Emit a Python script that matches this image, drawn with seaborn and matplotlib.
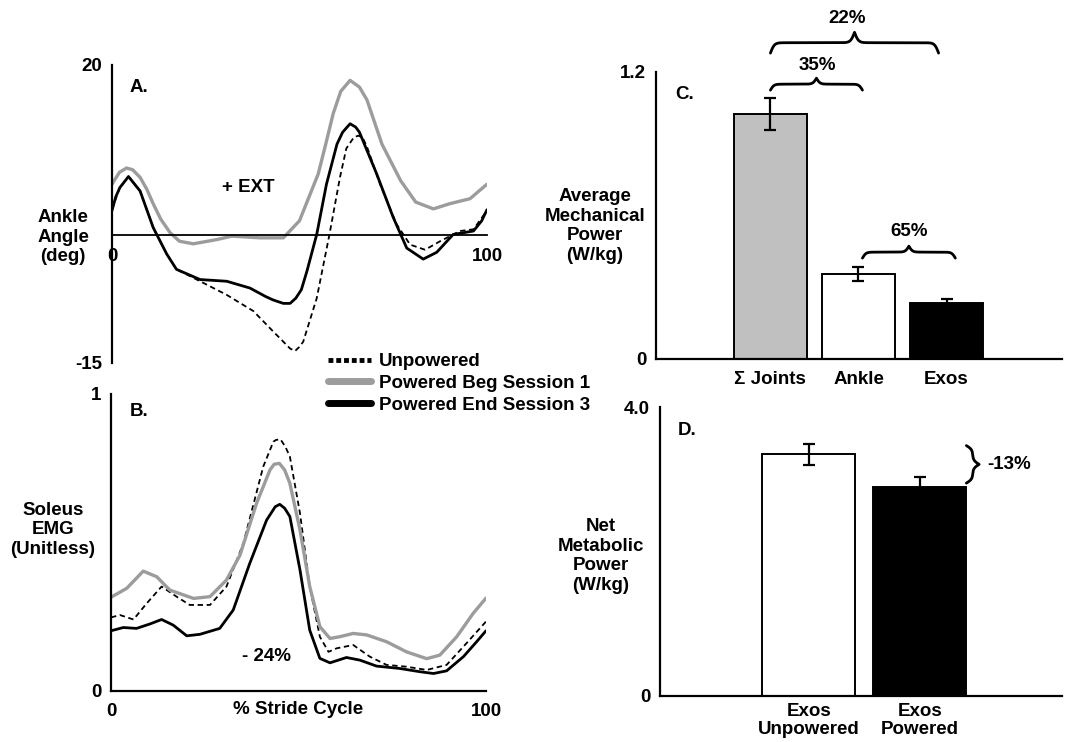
import numpy as np
import pandas as pd
import matplotlib
matplotlib.use("Agg")
import matplotlib.pyplot as plt
import seaborn as sns
from matplotlib.lines import Line2D


# A. ankle angle (deg) over the stride cycle (%)
ang_unp_x = [0, 2, 4.4, 7.5, 11, 14.6, 17.2, 23.5, 30.6, 37.7, 43, 46.6, 47.5, 48.8, 50, 51, 54.6, 58, 60.8, 62.5, 64.5, 65.7, 66.8, 68, 71.5, 75.9, 79.5, 83.5, 87.5, 92.8, 96.4, 100]
ang_unp_y = [3.0, 5.5, 6.9, 5.2, 0.9, -2.2, -4.0, -5.4, -7.0, -8.9, -11.3, -12.9, -13.3, -13.6, -13.1, -12.5, -7.4, 0.1, 6.8, 10.2, 11.5, 11.7, 11.5, 10.4, 6.0, 1.3, -1.1, -1.7, -0.7, 0.5, 0.7, 2.9]

ang_beg_x = [0, 2, 3.9, 5.5, 7.5, 9.3, 11, 13, 15.5, 18, 21.7, 28, 32, 39.5, 45.7, 50, 55, 57, 59, 61, 63.5, 66, 68, 72, 77, 81, 85.7, 90, 95.5, 100]
ang_beg_y = [6.0, 7.4, 7.9, 7.7, 6.8, 5.4, 3.7, 1.9, 0.3, -0.7, -1.0, -0.5, -0.1, -0.3, -0.3, 1.7, 7.2, 10.7, 14.3, 16.9, 18.2, 17.4, 15.9, 10.7, 6.4, 3.9, 3.1, 3.7, 4.3, 6.0]

ang_end_x = [0, 1, 2.1, 4.4, 7.5, 11, 14.6, 17.2, 23.5, 30.6, 36.8, 41, 43, 45.7, 47.5, 49, 50.5, 52, 54.6, 57.2, 60, 61.5, 63.5, 65, 66, 70.6, 75, 78.6, 83, 86.6, 91, 96.4, 98.6, 100]
ang_end_y = [2.9, 4.5, 5.6, 6.9, 5.2, 0.9, -2.2, -4.0, -5.2, -5.4, -6.2, -7.2, -7.6, -8.0, -8.0, -7.4, -6.4, -4.2, 0.1, 6.0, 10.7, 12.1, 13.1, 12.7, 12.1, 7.2, 2.1, -1.5, -2.8, -2.0, 0.1, 0.5, 1.7, 3.0]

# B. soleus EMG (unitless)
emg_unp_x = [0, 2.4, 6, 9.5, 13.5, 17.5, 21, 26.4, 30.8, 35.3, 40.6, 43.3, 44, 45.2, 46.5, 47.7, 50.4, 53, 55.7, 58, 60.2, 64.6, 69, 73.5, 78.8, 84.2, 89.5, 94.8, 100]
emg_unp_y = [0.247, 0.255, 0.240, 0.294, 0.351, 0.317, 0.289, 0.289, 0.351, 0.497, 0.755, 0.839, 0.845, 0.847, 0.822, 0.789, 0.598, 0.351, 0.182, 0.131, 0.143, 0.154, 0.115, 0.087, 0.081, 0.070, 0.087, 0.160, 0.233]

emg_beg_x = [0, 4.2, 8.6, 12.2, 15.7, 22, 26.4, 30.8, 34.4, 38.8, 42.4, 43.5, 44.9, 46.3, 47.7, 50.4, 53, 55.7, 58.4, 61, 64.6, 68.2, 73.5, 78.8, 84.2, 87.7, 92.2, 96.6, 100]
emg_beg_y = [0.315, 0.345, 0.403, 0.384, 0.339, 0.311, 0.317, 0.373, 0.457, 0.631, 0.744, 0.763, 0.766, 0.744, 0.699, 0.542, 0.351, 0.216, 0.176, 0.182, 0.193, 0.188, 0.165, 0.131, 0.108, 0.120, 0.182, 0.261, 0.312]

emg_end_x = [0, 3.3, 6.8, 10.4, 13.5, 16.6, 20.2, 23.7, 29, 32.6, 37, 41.5, 43.8, 45, 46.3, 47.7, 50.4, 53, 55.7, 58.4, 62.8, 66.4, 70.8, 77, 82.4, 86, 89.5, 94, 97.5, 100]
emg_end_y = [0.202, 0.213, 0.210, 0.225, 0.240, 0.221, 0.185, 0.190, 0.210, 0.272, 0.429, 0.575, 0.620, 0.628, 0.615, 0.587, 0.407, 0.204, 0.109, 0.094, 0.112, 0.103, 0.083, 0.075, 0.064, 0.058, 0.067, 0.115, 0.165, 0.202]

# C. average mechanical power (W/kg)
mech_labels = ["\u03a3 Joints", "Ankle", "Exos"]
mech_values = [1.023, 0.355, 0.234]
mech_errors = [0.067, 0.028, 0.016]
mech_colors = ["#c0c0c0", "white", "black"]

# D. net metabolic power (W/kg)
met_labels = ["Exos\nUnpowered", "Exos\nPowered"]
met_values = [3.35, 2.90]
met_errors = [0.145, 0.14]
met_colors = ["white", "black"]

series_labels = ["Unpowered", "Powered Beg Session 1", "Powered End Session 3"]

FS = 13.5
GRAY = "#9c9c9c"


def hbrace(ax, x1, x2, y_end, y_tip, beta):
    # horizontal curly brace, tip in the middle
    xs = np.linspace(x1, x2, 401)
    half = xs[:201]
    s = 1 / (1 + np.exp(-beta * (half - half[0]))) + 1 / (1 + np.exp(-beta * (half - half[-1])))
    s = np.concatenate((s, s[-2::-1]))
    ax.plot(xs, y_end + (s - 0.5) * (y_tip - y_end), color="black", lw=2, clip_on=False)


def vbrace(ax, y1, y2, x_end, x_tip, beta):
    ys = np.linspace(y1, y2, 401)
    half = ys[:201]
    s = 1 / (1 + np.exp(-beta * (half - half[0]))) + 1 / (1 + np.exp(-beta * (half - half[-1])))
    s = np.concatenate((s, s[-2::-1]))
    ax.plot(x_end + (s - 0.5) * (x_tip - x_end), ys, color="black", lw=2, clip_on=False)


def style_line_axes(ax):
    for side in ["top", "right"]:
        ax.spines[side].set_visible(False)
    for side in ["left", "bottom"]:
        ax.spines[side].set_linewidth(1.6)
        ax.spines[side].set_color("black")
    ax.tick_params(direction="out", length=5, width=1.6, pad=2, labelsize=FS, colors="black")
    ax.set_xlabel("")
    ax.set_ylabel("")


def draw_lines(ax, xs, ys):
    sns.lineplot(x=xs[0], y=ys[0], ax=ax, color="black", lw=1.3, linestyle=(0, (3, 2)))
    sns.lineplot(x=xs[1], y=ys[1], ax=ax, color=GRAY, lw=2.4)
    sns.lineplot(x=xs[2], y=ys[2], ax=ax, color="black", lw=2.0)


def draw_bars(ax, labels, values, errors, colors, width):
    df = pd.DataFrame({"cond": labels, "val": values})
    sns.barplot(data=df, x="cond", y="val", hue="cond", palette=colors, legend=False,
                width=width, edgecolor="black", linewidth=1.4, ax=ax, errorbar=None)
    ax.errorbar(range(len(values)), values, yerr=errors, fmt="none", ecolor="black",
                elinewidth=1.6, capsize=4, capthick=1.6, zorder=5)
    for side in ["top", "right"]:
        ax.spines[side].set_visible(False)
    for side in ["left", "bottom"]:
        ax.spines[side].set_linewidth(1.6)
        ax.spines[side].set_color("black")
    ax.tick_params(axis="y", direction="out", length=5, width=1.6, pad=2, labelsize=FS, colors="black")
    ax.tick_params(axis="x", length=0, labelsize=FS, colors="black")
    ax.tick_params(axis="x", which="minor", direction="out", length=5, width=1.6, colors="black")
    ax.set_xlabel("")
    ax.set_ylabel("")


sns.set_style("white")
plt.rcParams["font.family"] = ["Liberation Sans", "DejaVu Sans"]
plt.rcParams["font.weight"] = "bold"
plt.rcParams["text.color"] = "black"
plt.rcParams["axes.labelcolor"] = "black"
plt.rcParams["xtick.color"] = "black"
plt.rcParams["ytick.color"] = "black"
plt.rcParams["axes.unicode_minus"] = False

fig = plt.figure(figsize=(10.86, 7.42), dpi=100)

# ---- A
axA = fig.add_axes([0.1031, 0.5108, 0.3453, 0.4016])
draw_lines(axA, [ang_unp_x, ang_beg_x, ang_end_x], [ang_unp_y, ang_beg_y, ang_end_y])
axA.set_xlim(0, 100)
axA.set_ylim(-15, 20)
style_line_axes(axA)
axA.spines["bottom"].set_position(("data", 0))
axA.spines["bottom"].set_linewidth(1.3)
axA.set_yticks([-15, 20])
axA.set_xticks([0, 100])
axA.tick_params(axis="x", pad=4)
axA.text(4.8, 17.3, "A.", fontsize=FS, va="center")
axA.text(36.3, 5.6, "+ EXT", fontsize=FS, ha="center", va="center")

# ---- B
axB = fig.add_axes([0.1022, 0.0691, 0.3453, 0.400])
draw_lines(axB, [emg_unp_x, emg_beg_x, emg_end_x], [emg_unp_y, emg_beg_y, emg_end_y])
axB.set_xlim(0, 100)
axB.set_ylim(0, 1)
style_line_axes(axB)
axB.set_yticks([0, 1])
axB.set_xticks([0, 100])
axB.tick_params(axis="x", pad=4)
axB.text(5.0, 0.94, "B.", fontsize=FS, va="center")
axB.text(41.6, 0.117, "- 24%", fontsize=FS, ha="center", va="center")
axB.set_xlabel("% Stride Cycle", fontsize=FS, fontweight="bold", labelpad=-14)

# ---- C
axC = fig.add_axes([0.604, 0.5166, 0.3738, 0.3864])
draw_bars(axC, mech_labels, mech_values, mech_errors, mech_colors, 0.83)
axC.set_xlim(-1.30, 3.31)
axC.set_ylim(0, 1.2)
axC.set_yticks([0, 1.2])
axC.set_yticklabels(["0", "1.2"])
axC.set_xticks([3.31], minor=True)
axC.tick_params(axis="x", pad=9)
axC.text(-1.08, 1.104, "C.", fontsize=FS, va="center")
hbrace(axC, 0.0, 1.91, 1.279, 1.366, 45)
hbrace(axC, 0.0, 1.045, 1.124, 1.174, 50)
hbrace(axC, 1.045, 2.1, 0.421, 0.471, 50)
axC.text(0.875, 1.422, "22%", fontsize=FS, ha="center", va="center")
axC.text(0.53, 1.229, "35%", fontsize=FS, ha="center", va="center")
axC.text(1.57, 0.532, "65%", fontsize=FS, ha="center", va="center")

# ---- D
axD = fig.add_axes([0.6077, 0.062, 0.370, 0.389])
draw_bars(axD, met_labels, met_values, met_errors, met_colors, 0.84)
axD.set_xlim(-1.342, 2.28)
axD.set_ylim(0, 4)
axD.set_yticks([0, 4])
axD.set_yticklabels(["0", "4.0"])
axD.set_xticks([2.28], minor=True)
axD.tick_params(axis="x", pad=5)
for lab in axD.get_xticklabels():
    lab.set_linespacing(1.1)
axD.text(-1.18, 3.68, "D.", fontsize=FS, va="center")
vbrace(axD, 2.95, 3.47, 1.42, 1.535, 36)
axD.text(1.61, 3.21, "-13%", fontsize=FS, va="center")

# ---- y labels
fig.text(63 / 1086, 1 - 237 / 742, "Ankle\nAngle\n(deg)", fontsize=FS, ha="center", va="center", multialignment="center")
fig.text(53 / 1086, 1 - 530 / 742, "Soleus\nEMG\n(Unitless)", fontsize=FS, ha="center", va="center", multialignment="center")
fig.text(595 / 1086, 1 - 226 / 742, "Average\nMechanical\nPower\n(W/kg)", fontsize=FS, ha="center", va="center", multialignment="center")
fig.text(601 / 1086, 1 - 556 / 742, "Net\nMetabolic\nPower\n(W/kg)", fontsize=FS, ha="center", va="center", multialignment="center")

# ---- legend
handles = [Line2D([], [], color="black", lw=3.5, linestyle=(0, (1, 0.6))),
           Line2D([], [], color=GRAY, lw=5),
           Line2D([], [], color="black", lw=5)]
fig.legend(handles, series_labels, loc="upper left", bbox_to_anchor=(328 / 1086, 1 - 353 / 742),
           frameon=False, fontsize=FS, handlelength=2.3, handletextpad=0.4, labelspacing=0.25,
           borderpad=0, borderaxespad=0)

fig.savefig("out.png", dpi=100)
